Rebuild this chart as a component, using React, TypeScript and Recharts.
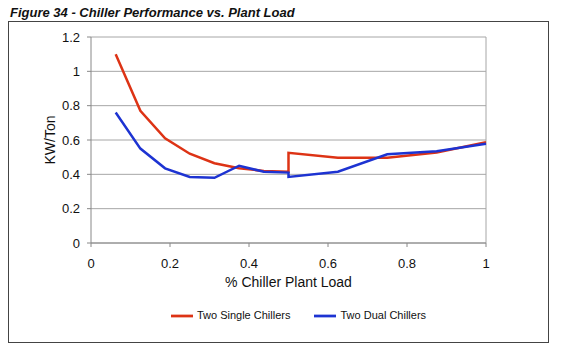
import React from 'react';
import { LineChart, Line, XAxis, YAxis, CartesianGrid, Legend, ReferenceLine } from 'recharts';

// load fraction (two readings at 0.5 where staging changes)
const LOAD = [0.0625, 0.125, 0.1875, 0.25, 0.3125, 0.375, 0.4375, 0.5, 0.5, 0.625, 0.75, 0.875, 1.0];
const SINGLE_KW = [1.1, 0.77, 0.61, 0.52, 0.465, 0.435, 0.42, 0.415, 0.525, 0.497, 0.497, 0.527, 0.587];
const DUAL_KW = [0.76, 0.55, 0.435, 0.385, 0.38, 0.45, 0.415, 0.41, 0.385, 0.415, 0.517, 0.535, 0.578];

const SERIES_NAMES = ['Two Single Chillers', 'Two Dual Chillers'];

const X_TICKS = [0, 0.2, 0.4, 0.6, 0.8, 1];
const Y_TICKS = [0, 0.2, 0.4, 0.6, 0.8, 1, 1.2];

const RED = '#dd3315';
const BLUE = '#1d33d2';
const FONT = '"Liberation Sans", Arial, sans-serif';
const AXIS_STROKE = '#888';
const GRID_STROKE = '#a6a6a6';

const data = LOAD.map((load, i) => ({ load, single: SINGLE_KW[i], dual: DUAL_KW[i] }));

const tick = { fill: '#111', fontSize: 13, fontFamily: FONT };

export default function App() {
  return (
    <div style={{ position: 'absolute', left: 0, top: 0, width: 562, height: 353, background: '#fff', fontFamily: FONT }}>
      <div
        style={{
          position: 'absolute',
          left: 10,
          top: 6,
          fontSize: 13,
          lineHeight: 1,
          fontWeight: 'bold',
          fontStyle: 'italic',
          color: '#111',
          whiteSpace: 'nowrap',
        }}
      >
        Figure 34 - Chiller Performance vs. Plant Load
      </div>
      <div
        style={{
          position: 'absolute',
          left: 8,
          top: 21,
          width: 541,
          height: 322,
          border: '1px solid #444',
          boxSizing: 'border-box',
        }}
      >
        <LineChart width={539} height={320} data={data} margin={{ top: 15, right: 62, left: 0, bottom: 15 }}>
          <CartesianGrid vertical={false} stroke={GRID_STROKE} />
          <XAxis
            dataKey="load"
            type="number"
            domain={[0, 1]}
            ticks={X_TICKS}
            tick={tick}
            tickSize={4}
            tickMargin={12}
            stroke={AXIS_STROKE}
            height={62}
            label={{ value: '% Chiller Plant Load', position: 'insideTop', offset: 34, fill: '#111', fontSize: 14, fontFamily: FONT }}
          />
          <YAxis
            type="number"
            domain={[0, 1.2]}
            ticks={Y_TICKS}
            tick={tick}
            tickSize={4}
            tickMargin={7}
            stroke={AXIS_STROKE}
            width={82}
            label={{
              value: 'KW/Ton',
              angle: -90,
              position: 'insideLeft',
              offset: 41,
              fill: '#111',
              fontSize: 14,
              fontFamily: FONT,
              style: { textAnchor: 'middle' },
            }}
          />
          <ReferenceLine x={1} stroke={GRID_STROKE} />
          <Legend
            verticalAlign="bottom"
            iconType="plainline"
            iconSize={22}
            itemSorter={(item: any) => SERIES_NAMES.indexOf(item.value)}
            wrapperStyle={{ left: 63, fontSize: 11, fontFamily: FONT }}
            formatter={(value) => <span style={{ color: '#111', marginRight: 14 }}>{value}</span>}
          />
          <Line
            type="linear"
            dataKey="single"
            name={SERIES_NAMES[0]}
            stroke={RED}
            strokeWidth={2.5}
            dot={false}
            isAnimationActive={false}
          />
          <Line
            type="linear"
            dataKey="dual"
            name={SERIES_NAMES[1]}
            stroke={BLUE}
            strokeWidth={2.5}
            dot={false}
            isAnimationActive={false}
          />
        </LineChart>
      </div>
    </div>
  );
}
